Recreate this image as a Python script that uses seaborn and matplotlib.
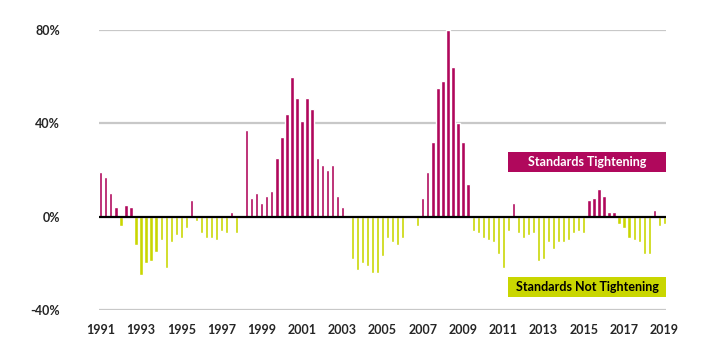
import pandas as pd
import matplotlib.pyplot as plt
import seaborn as sns
from matplotlib.patches import Rectangle

# net % of banks tightening standards, quarterly from 1991Q1
values = [19, 17, 10, 4, -4, 5, 4, -12,
          -25, -20, -19, -15, -10, -22, -11, -8,
          -9, -5, 7, -2, -7, -9, -9, -10,
          -6, -7, 2, -7, 0, 37, 8, 10,
          6, 9, 11, 25, 34, 44, 60, 51,
          41, 51, 46, 25, 22, 20, 22, 9,
          4, 0, -18, -23, -20, -21, -24, -24,
          -17, -9, -11, -12, -9, 0, 0, -4,
          8, 19, 32, 55, 58, 80, 64, 40,
          32, 14, -6, -7, -9, -10, -11, -16,
          -22, -6, 6, -7, -9, -8, -7, -19,
          -18, -11, -14, -11, -11, -10, -7, -6,
          -7, 7, 8, 12, 9, 2, 2, -3,
          -5, -9, -10, -11, -16, -16, 3, -4,
          -3]
year_labels = [str(y) for y in range(1991, 2020, 2)]
y_ticks = [-40, 0, 40, 80]
y_labels = ['-40%', '0%', '40%', '80%']

pink = '#B0085C'
lime = '#C9D600'

df = pd.DataFrame({
    'quarter': pd.period_range('1991Q1', periods=len(values), freq='Q').astype(str),
    'value': values,
})
df['sign'] = ['up' if v > 0 else 'down' for v in df['value']]

sns.set_style('white')
plt.rcParams['font.family'] = ['Lato', 'DejaVu Sans']

fig = plt.figure(figsize=(7.28, 3.55), dpi=100)
ax = fig.add_axes([0.136, 0.127, 0.779, 0.789])

sns.barplot(data=df, x='quarter', y='value', hue='sign',
            palette={'up': pink, 'down': lime}, width=0.65, dodge=False,
            saturation=1, legend=False, ax=ax, zorder=2)

for y in [80, 40, -40]:
    ax.axhline(y, color='#C8C8C8', lw=1.6, zorder=1)
ax.axhline(0, color='black', lw=1.6, zorder=3)

ax.set_xlim(-0.35, len(values) - 0.65)
ax.set_ylim(-40, 80)
ax.set_xticks(range(0, len(values), 8))
ax.set_xticklabels(year_labels, fontsize=9, fontweight='bold')
ax.set_yticks(y_ticks)
ax.set_yticklabels(y_labels, fontsize=9, fontweight='bold')
ax.tick_params(axis='y', length=0, pad=28)
ax.tick_params(axis='x', length=0, pad=10)
ax.set_xlabel('')
ax.set_ylabel('')
sns.despine(ax=ax, left=True, bottom=True)

# label boxes
ax.add_patch(Rectangle((0.721, 0.493), 0.279, 0.071, transform=ax.transAxes,
                       facecolor=pink, edgecolor='none', zorder=4, clip_on=False))
ax.text(0.8605, 0.5285, 'Standards Tightening', transform=ax.transAxes,
        ha='center', va='center', color='white', fontsize=9, fontweight='bold', zorder=5)
ax.add_patch(Rectangle((0.721, 0.047), 0.279, 0.071, transform=ax.transAxes,
                       facecolor=lime, edgecolor='none', zorder=4, clip_on=False))
ax.text(0.8605, 0.0825, 'Standards Not Tightening', transform=ax.transAxes,
        ha='center', va='center', color='black', fontsize=9, fontweight='bold', zorder=5)

fig.savefig('out.png', dpi=100)
